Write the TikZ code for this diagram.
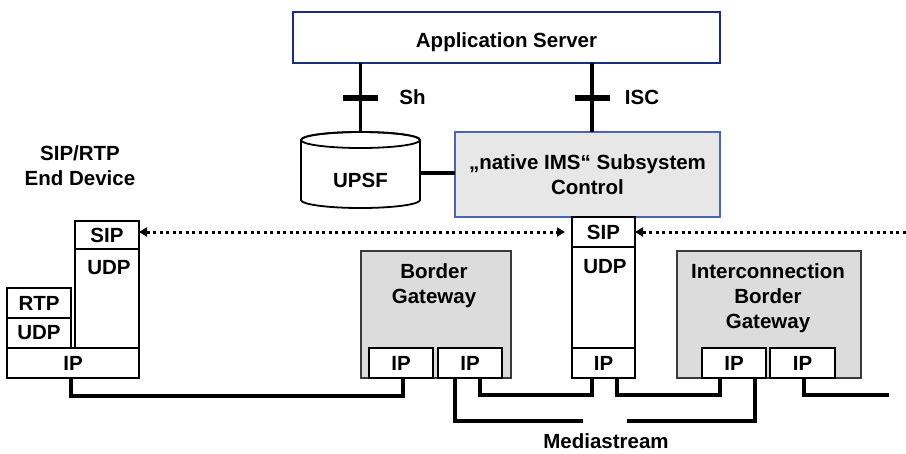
\documentclass[tikz,border=0pt]{standalone}
\usepackage{fontspec}
\setmainfont{Liberation Sans}
\usetikzlibrary{arrows.meta,calc}
\definecolor{asblue}{HTML}{1B2E7E}
\definecolor{imsblue}{HTML}{4A66B0}
\definecolor{imsfill}{HTML}{E7E7E7}
\definecolor{gwfill}{HTML}{DCDCDC}
\definecolor{gwline}{HTML}{3A3A3A}
\begin{document}
\begin{tikzpicture}[x=1pt,y=-1pt,
  every node/.style={font=\fontsize{20.5}{25}\selectfont\bfseries, inner sep=0pt, outer sep=0pt},
  cell/.style={draw=black, line width=1.4pt, fill=white},
  gateway/.style={draw=gwline, line width=1.4pt, fill=gwfill},
  wire/.style={line width=3.2pt, draw=black},
  bar/.style={line width=6pt, draw=black},
  sig/.style={line width=3pt, dash pattern=on 3pt off 3.5pt},
  tip/.tip={Triangle[length=8pt,width=9pt]},
  cyl/.style={line width=1.8pt, draw=black, fill=white}]
\useasboundingbox (0,0) rectangle (906,453);

% application server and control layer
\node[draw=asblue, line width=1.4pt, fill=white, minimum width=427pt, minimum height=51pt,
      label={[yshift=-5pt]center:Application Server}] (app) at (506.5,37.5) {};
\node[draw=imsblue, line width=1.2pt, fill=imsfill, minimum width=265pt, minimum height=85pt,
      align=center] (ims) at (587.5,174.5) {„native IMS“ Subsystem\\Control};

% UPSF database
\node[minimum width=119pt, minimum height=76pt] (upsf) at (360.5,170) {};
\draw[cyl] ([yshift=-8pt]upsf.north west) -- ([yshift=8pt]upsf.south west)
  arc[start angle=180, end angle=360, x radius=59.5pt, y radius=8pt]
  -- ([yshift=-8pt]upsf.north east)
  arc[start angle=0, end angle=180, x radius=59.5pt, y radius=8pt] -- cycle;
\draw[cyl, fill=none] ([yshift=-8pt]upsf.north) ellipse[x radius=59.5pt, y radius=8pt];
\node (upsfText) at (360.5,180) {UPSF};

% Sh and ISC reference points
\coordinate (shTop) at (app.south -| upsf.north);
\draw[wire] (shTop) -- coordinate (shMid) (upsf.north);
\draw[bar] ([xshift=-17.5pt]shMid) -- ([xshift=17.5pt]shMid);
\node (shLabel) at ([xshift=52pt]shMid) {Sh};

\coordinate (iscBot) at ([xshift=4.5pt]ims.north);
\coordinate (iscTop) at (iscBot |- app.south);
\draw[wire] (iscTop) -- coordinate (iscMid) (iscBot);
\draw[bar] ([xshift=-17.5pt]iscMid) -- ([xshift=17.5pt]iscMid);
\node (iscLabel) at ([xshift=50pt]iscMid) {ISC};

\coordinate (upsfR) at ([yshift=-3pt]upsf.east);
\draw[wire] (upsfR) -- (upsfR -| ims.west);

% SIP/RTP end device protocol stack
\node[align=center] (edTitle) at (80,165.5) {SIP/RTP\\End Device};
\node[cell, minimum width=64pt, minimum height=28pt] (edSIP) at (107,235) {SIP};
\node[cell, minimum width=64pt, minimum height=99pt] (edUDP) at (107,298.5) {};
\node (edUDPText) at (109,268) {UDP};
\node[cell, minimum width=64pt, minimum height=30pt] (edRTP) at (39,303) {RTP};
\node[cell, minimum width=64pt, minimum height=30pt] (edUDPm) at (39,333) {UDP};
\node[cell, minimum width=132pt, minimum height=30pt] (edIP) at (73,363) {IP};

% SIP stack below the subsystem control
\node[cell, minimum width=63pt, minimum height=30pt] (sipSIP) at (603.5,232) {SIP};
\node[cell, minimum width=63pt, minimum height=101pt] (sipUDP) at (603.5,297.5) {};
\node (sipUDPText) at (605,267) {UDP};
\node[cell, minimum width=63pt, minimum height=30pt] (sipIP) at (603.5,363) {IP};

% border gateways
\node[gateway, minimum width=150pt, minimum height=127pt] (bg) at (436,314.5) {};
\node[align=center] (bgText) at (434,285.5) {Border\\Gateway};
\node[cell, minimum width=64pt, minimum height=30pt] (bgIPa) at (401,363) {IP};
\node[cell, minimum width=64pt, minimum height=30pt] (bgIPb) at (470,363) {IP};

\node[gateway, minimum width=184pt, minimum height=127pt] (ibg) at (769,314.5) {};
\node[align=center] (ibgText) at (768,298) {Interconnection\\Border\\Gateway};
\node[cell, minimum width=64pt, minimum height=30pt] (ibgIPa) at (734,363) {IP};
\node[cell, minimum width=65pt, minimum height=30pt] (ibgIPb) at (802.5,363) {IP};

% SIP signalling
\coordinate (sigEnd) at (906,232);
\draw[sig, {tip}-{tip}, shorten >=7pt] (edSIP.east |- sipSIP.west) -- (sipSIP.west);
\draw[sig, {tip}-] (sipSIP.east) -- (sigEnd);

% IP links
\draw[wire] ([xshift=-2pt]edIP.south) -- ++(0,18) -| ([xshift=2pt]bgIPa.south);
\draw[wire] ([xshift=10pt]bgIPb.south) -- ++(0,17) -| ([xshift=-11.5pt]sipIP.south);
\draw[wire] ([xshift=13.5pt]sipIP.south) -- ++(0,17) -| ([xshift=-14pt]ibgIPa.south);
\coordinate (lanEnd) at (889,395);
\draw[wire] ([xshift=1.5pt]ibgIPb.south) |- (lanEnd);

% media stream between the gateways
\coordinate (msL) at (583,421);
\coordinate (msR) at (627,421);
\draw[wire] ([xshift=-15pt]bgIPb.south) |- (msL);
\draw[wire] (msR) -| ([xshift=21pt]ibgIPa.south);
\node (msLabel) at (606,441) {Mediastream};
\end{tikzpicture}
\end{document}
